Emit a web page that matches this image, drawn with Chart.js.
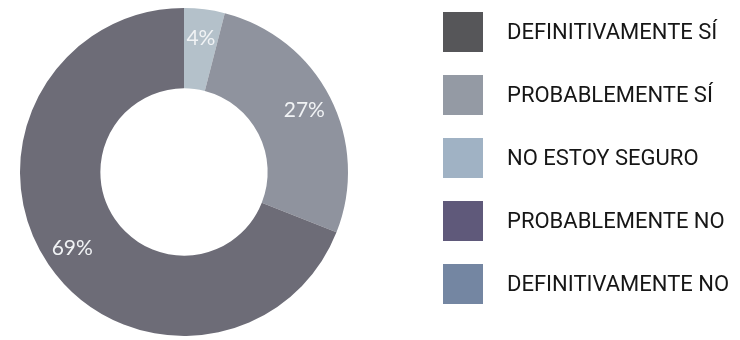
<!DOCTYPE html>
<html lang="es">
<head>
    <meta charset="UTF-8">
    <title>Encuesta</title>
    <script src="https://cdn.jsdelivr.net/npm/chart.js"></script>
    <style>
        body { margin: 0; background: #fff; }
    </style>
</head>
<body>
    <canvas id="surveyChart" width="740" height="340"></canvas>

    <script>
        // answers, in legend order
        const categories = ['DEFINITIVAMENTE SÍ', 'PROBABLEMENTE SÍ', 'NO ESTOY SEGURO', 'PROBABLEMENTE NO', 'DEFINITIVAMENTE NO'];
        const percents = [69, 27, 4, 0, 0];
        const sliceColors = ['#6d6c77', '#8f939e', '#b4c1ca', '#5f597a', '#7486a2'];
        const legendColors = ['#565659', '#949aa4', '#a0b2c4', '#5f597a', '#7486a2'];

        // the pie is drawn clockwise from the top starting with the last answer
        const pieLabels = categories.slice().reverse();
        const pieValues = percents.slice().reverse();
        const pieColors = sliceColors.slice().reverse();

        const percentLabels = {
            id: 'percentLabels',
            afterDatasetsDraw(chart) {
                const ctx = chart.ctx;
                const meta = chart.getDatasetMeta(0);
                ctx.save();
                ctx.font = '21px Lato';
                ctx.fillStyle = '#f1f3f5';
                ctx.textAlign = 'center';
                ctx.textBaseline = 'middle';
                meta.data.forEach((arc, i) => {
                    const v = pieValues[i];
                    if (!v) return;
                    const p = arc.getProps(['x', 'y', 'startAngle', 'endAngle', 'innerRadius', 'outerRadius']);
                    const a = (p.startAngle + p.endAngle) / 2;
                    const r = p.innerRadius + (p.outerRadius - p.innerRadius) * 0.64;
                    ctx.fillText(v + '%', p.x + Math.cos(a) * r, p.y + Math.sin(a) * r);
                });
                ctx.restore();
            }
        };

        // legend drawn as a column of big squares on the right
        const sideLegend = {
            id: 'sideLegend',
            afterDraw(chart) {
                const ctx = chart.ctx;
                ctx.save();
                ctx.font = '22px Roboto';
                ctx.textBaseline = 'middle';
                categories.forEach((label, i) => {
                    const top = 12 + i * 63;
                    ctx.fillStyle = legendColors[i];
                    ctx.fillRect(443, top, 40, 40);
                    ctx.fillStyle = '#161616';
                    ctx.fillText(label, 507, top + 21);
                });
                ctx.restore();
            }
        };

        new Chart(document.getElementById('surveyChart'), {
            type: 'doughnut',
            data: {
                labels: pieLabels,
                datasets: [{
                    data: pieValues,
                    backgroundColor: pieColors,
                    borderWidth: 0
                }]
            },
            options: {
                responsive: false,
                animation: false,
                cutout: '51%',
                layout: { padding: { left: 20, top: 8, right: 392, bottom: 4 } },
                plugins: {
                    legend: { display: false },
                    tooltip: { enabled: false }
                }
            },
            plugins: [percentLabels, sideLegend]
        });
    </script>
</body>
</html>
